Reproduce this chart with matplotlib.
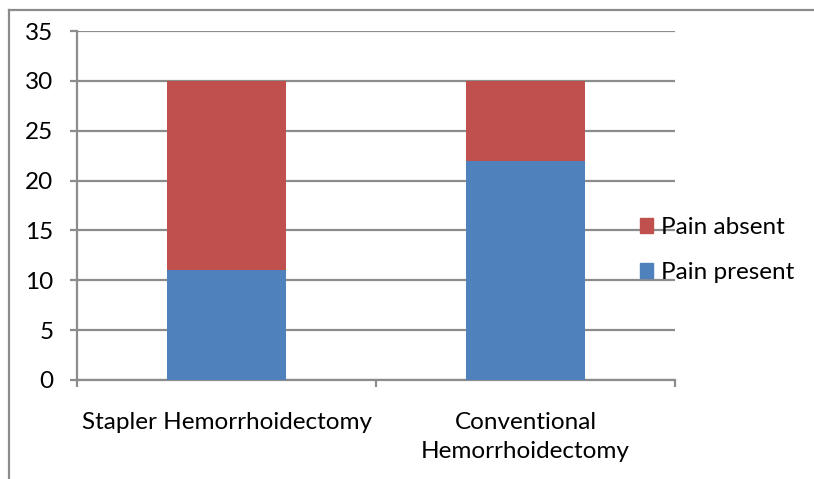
import matplotlib
matplotlib.use("Agg")
import matplotlib.pyplot as plt
import matplotlib.transforms as mtransforms
from matplotlib.lines import Line2D
from matplotlib.patches import Patch

categories = ["Stapler Hemorrhoidectomy", "Conventional\nHemorrhoidectomy"]
pain_present = [11, 22]
pain_absent = [19, 8]
y_ticks = [0, 5, 10, 15, 20, 25, 30, 35]

BLUE = "#4F81BD"
RED = "#C0504D"
GRID = "#8C8C8C"
FONT = "Lato"
FS = 17.5

W, H = 814, 479
fig = plt.figure(figsize=(W / 100, H / 100), dpi=100)
fig.patch.set_facecolor("white")

# outer chart frame (top and left edges)
fig.add_artist(Line2D([9 / W, 1], [1 - 10 / H, 1 - 10 / H], color=GRID, lw=1.6,
                      transform=fig.transFigure))
fig.add_artist(Line2D([9 / W, 9 / W], [1 - 10 / H, 0], color=GRID, lw=1.6,
                      transform=fig.transFigure))

ax = fig.add_axes([77 / W, 1 - 380 / H, (675 - 77) / W, (380 - 31) / H])
x = list(range(len(categories)))
ax.bar(x, pain_present, width=0.4, color=BLUE, zorder=3, label="Pain present")
ax.bar(x, pain_absent, width=0.4, bottom=pain_present, color=RED, zorder=3,
       label="Pain absent")

ax.set_xlim(-0.5, len(categories) - 0.5)
ax.set_ylim(0, 35)
ax.set_yticks(y_ticks)
ax.set_yticklabels([str(v) for v in y_ticks], fontsize=FS, family=FONT)
ax.yaxis.grid(True, color=GRID, lw=1.6, zorder=0)
ax.tick_params(axis="y", length=5, width=1.6, color=GRID, pad=12)

ax.set_xticks([i - 0.5 for i in range(len(categories) + 1)])
ax.set_xticklabels([])
ax.tick_params(axis="x", length=5, width=1.6, color=GRID, direction="out")

# category labels below the axis
lab_tr = mtransforms.blended_transform_factory(ax.transData, fig.transFigure)
for i, lab in enumerate(categories):
    ax.text(i, 1 - 412 / H, lab, ha="center", va="top", fontsize=FS,
            family=FONT, linespacing=1.48, transform=lab_tr)

for side in ("top", "right"):
    ax.spines[side].set_visible(False)
for side in ("left", "bottom"):
    ax.spines[side].set_color(GRID)
    ax.spines[side].set_linewidth(1.6)

handles = [Patch(color=RED), Patch(color=BLUE)]
leg = fig.legend(handles, ["Pain absent", "Pain present"], loc="center left",
                 bbox_to_anchor=(618 / W, 1 - 250 / H), frameon=False,
                 prop={"family": FONT, "size": FS}, handlelength=0.55,
                 handleheight=0.55, handletextpad=0.3, labelspacing=1.0)

fig.savefig("out.png", dpi=100)
